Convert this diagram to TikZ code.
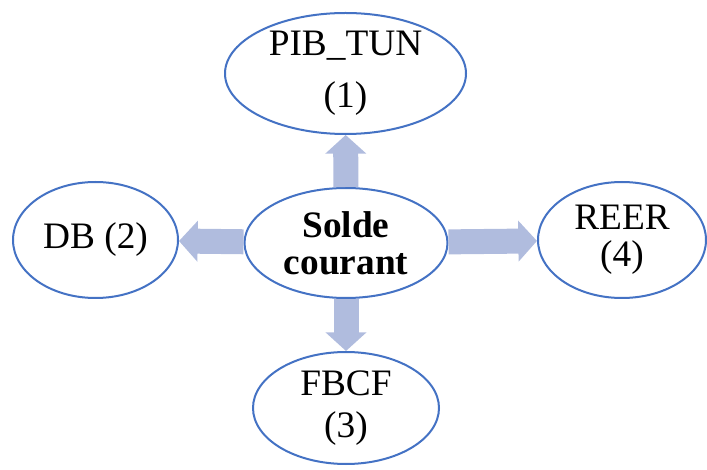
\documentclass[tikz,border=0pt]{standalone}
\usepackage{fontspec}
\setmainfont{Liberation Serif}
\usetikzlibrary{shapes.geometric,arrows.meta}
\definecolor{bord}{RGB}{68,114,196}
\definecolor{fleche}{RGB}{176,188,222}
\begin{document}
\begin{tikzpicture}[x=0.75pt,y=-0.75pt,
	bulle/.style={ellipse, draw=bord, line width=1.5pt, fill=white, inner sep=0pt, align=center,
		font=\fontsize{28}{28}\selectfont},
	grosse/.style={line width=18.75pt, draw=fleche, -{Triangle[width=30pt,length=14pt]}}]
	\useasboundingbox (0,0) rectangle (707,470);
	\node (SC)  at (346, 243)	[bulle, minimum width=203pt*0.75, minimum height=110pt*0.75]	{\bfseries Solde\\\bfseries courant};
	\node (PIB) at (345.5, 73.5)	[bulle, minimum width=241pt*0.75, minimum height=121pt*0.75]	{PIB\_TUN\\[11pt](1)};
	\node (DB)  at (95.5, 240)	[bulle, minimum width=165pt*0.75, minimum height=116pt*0.75]	{DB (2)};
	\node (FB)  at (346, 408)	[bulle, minimum width=186pt*0.75, minimum height=112pt*0.75]	{FBCF\\[3pt](3)};
	\node (RE)  at (622, 240)	[bulle, minimum width=168pt*0.75, minimum height=116pt*0.75]	{REER\\(4)};
	\draw[grosse] (SC) -- (PIB);
	\draw[grosse] (SC) -- (DB);
	\draw[grosse] (SC) -- (FB);
	\draw[grosse] (SC) -- (RE);
\end{tikzpicture}
\end{document}
